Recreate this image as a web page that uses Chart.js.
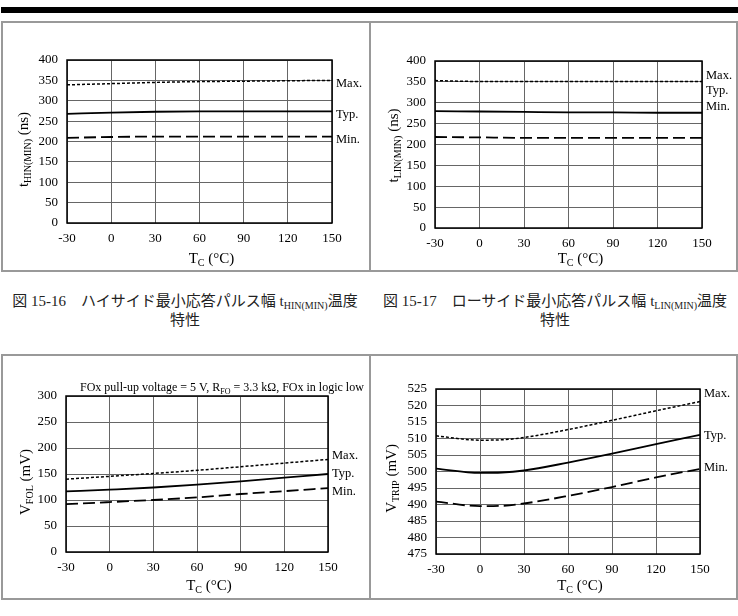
<!DOCTYPE html>
<html>
<head>
<meta charset="utf-8">
<script src="https://cdn.jsdelivr.net/npm/chart.js@4.4.0/dist/chart.umd.min.js"></script>
<style>
  body { margin: 0; background: #fff; width: 738px; height: 616px; position: relative; overflow: hidden;
         font-family: "Liberation Serif", "Noto Sans CJK JP", serif; }
  .bar { position: absolute; left: 1px; top: 7px; width: 737px; height: 6px; background: #000; }
  .cell { position: absolute; box-sizing: border-box; border: 2px solid #999; }
  canvas { position: absolute; }
  .cap { position: absolute; width: 370px; text-align: center; font-size: 15px; line-height: 19px; color: #222; }
  .cap .lat { font-family: "Liberation Serif", serif; }
  .cap sub { font-size: 10px; vertical-align: -3px; line-height: 0; }
</style>
</head>
<body>
<div class="bar"></div>
<div class="cell" style="left:1px;top:21px;width:370px;height:251px"></div>
<div class="cell" style="left:369px;top:21px;width:369px;height:251px"></div>
<div class="cell" style="left:1px;top:354px;width:370px;height:246px"></div>
<div class="cell" style="left:369px;top:354px;width:369px;height:246px"></div>

<canvas id="c1" width="366" height="247" style="left:3px;top:23px"></canvas>
<canvas id="c2" width="365" height="247" style="left:371px;top:23px"></canvas>
<canvas id="c3" width="366" height="242" style="left:3px;top:356px"></canvas>
<canvas id="c4" width="365" height="242" style="left:371px;top:356px"></canvas>

<div class="cap" style="left:0;top:292px">図 <span class="lat">15-16</span>　ハイサイド最小応答パルス幅 <span class="lat">t<sub>HIN(MIN)</sub></span>温度<br>特性</div>
<div class="cap" style="left:370px;top:292px">図 <span class="lat">15-17</span>　ローサイド最小応答パルス幅 <span class="lat">t<sub>LIN(MIN)</sub></span>温度<br>特性</div>

<script>
// 温度 (°C)
const tempC = [-30, 0, 30, 60, 90, 120, 150];
const tempTrip = [-30, 0, 15, 30, 60, 90, 120, 150];

// t_HIN(MIN) (ns)
const hinMax = [339, 342, 345, 347, 348, 349, 350];
const hinTyp = [268, 271, 273, 274, 274, 274, 274];
const hinMin = [209, 211, 212, 212, 212, 212, 212];

// t_LIN(MIN) (ns)
const linMax = [353, 351, 351, 351, 351, 351, 351];
const linTyp = [280, 279, 278, 277, 277, 276, 276];
const linMin = [218, 217, 216, 216, 216, 216, 216];

// V_FOL (mV)
const folMax = [140, 145.5, 151, 157, 164, 171, 178];
const folTyp = [116.5, 120, 124, 129.5, 136, 143, 150];
const folMin = [92, 96, 100, 105, 111.5, 117, 123];

// V_TRIP (mV)
const tripMax = [510.8, 509.5, 509.6, 510.3, 512.7, 515.5, 518.4, 521.2];
const tripTyp = [500.9, 499.6, 499.7, 500.3, 502.7, 505.4, 508.3, 511.1];
const tripMin = [490.9, 489.5, 489.6, 490.3, 492.6, 495.3, 498.2, 500.8];

const serif = '"Liberation Serif", "Times New Roman", serif';

// 添字つきテキストを描く
function rich(ctx, parts, x, y, align, size) {
  size = size || 15;
  const main = size + 'px ' + serif, sub = Math.round(size * 0.68) + 'px ' + serif;
  let w = 0;
  parts.forEach(p => { ctx.font = p[1] ? sub : main; w += ctx.measureText(p[0]).width; });
  let cx = align === 'left' ? x : x - w / 2;
  ctx.textAlign = 'left';
  ctx.textBaseline = 'alphabetic';
  parts.forEach(p => {
    ctx.font = p[1] ? sub : main;
    ctx.fillText(p[0], cx, y + size / 3 + (p[1] ? 3 : 0));
    cx += ctx.measureText(p[0]).width;
  });
}

const decoPlugin = {
  id: 'deco',
  afterDraw(chart, args, o) {
    const { ctx, chartArea: a, scales } = chart;
    ctx.save();
    ctx.strokeStyle = '#000';
    ctx.lineWidth = 1.5;
    ctx.strokeRect(a.left, a.top, a.right - a.left, a.bottom - a.top);
    ctx.fillStyle = '#000';
    ctx.font = '12.5px ' + serif;
    ctx.textAlign = 'left';
    ctx.textBaseline = 'middle';
    o.side.forEach(s => ctx.fillText(s[0], a.right + 4, scales.y.getPixelForValue(s[1])));
    if (o.note) rich(ctx, o.note, a.left + 14, a.top - 9, 'left', 12);
    rich(ctx, o.xTitle, (a.left + a.right) / 2 + 12, a.bottom + o.xGap);
    ctx.translate(a.left - o.yGap, (a.top + a.bottom) / 2 + o.yShift);
    ctx.rotate(-Math.PI / 2);
    rich(ctx, o.yTitle, 0, 0);
    ctx.restore();
  }
};

function series(xs, ys, kind) {
  const st = {
    max: { borderDash: [3, 2], borderWidth: 1.5 },
    typ: { borderDash: [], borderWidth: 1.8 },
    min: { borderDash: [12, 5], borderWidth: 1.8 }
  }[kind];
  return Object.assign({
    data: xs.map((x, i) => ({ x: x, y: ys[i] })),
    borderColor: '#000',
    pointRadius: 0,
    fill: false,
    cubicInterpolationMode: 'monotone'
  }, st);
}

// box: キャンバスのページ位置, plot: プロット領域のページ位置
function makeChart(id, box, plot, datasets, yMin, yMax, yStep, decoOpts) {
  const axisW = plot.left - box.left;
  const axisH = box.top + box.h - plot.bottom;
  return new Chart(document.getElementById(id), {
    type: 'line',
    data: { datasets: datasets },
    options: {
      responsive: false,
      animation: false,
      layout: { padding: { left: 0, bottom: 0, top: plot.top - box.top, right: box.left + box.w - plot.right } },
      plugins: { legend: { display: false }, tooltip: { enabled: false }, deco: decoOpts },
      scales: {
        x: {
          type: 'linear', min: -30, max: 150,
          ticks: { stepSize: 30, autoSkip: false, maxRotation: 0, color: '#000', padding: 8, font: { family: serif, size: 13 } },
          grid: { color: '#666', lineWidth: 1, drawTicks: false },
          border: { display: false },
          afterFit(s) { s.height = axisH; }
        },
        y: {
          min: yMin, max: yMax,
          ticks: { stepSize: yStep, autoSkip: false, color: '#000', padding: 9, font: { family: serif, size: 13 } },
          grid: { color: '#666', lineWidth: 1, drawTicks: false },
          border: { display: false },
          afterFit(s) { s.width = axisW; }
        }
      }
    },
    plugins: [decoPlugin]
  });
}

const xTitle = [['T'], ['C', true], [' (°C)']];

makeChart('c1', { left: 3, top: 23, w: 366, h: 247 }, { left: 67, right: 332, top: 60, bottom: 223 },
  [series(tempC, hinMax, 'max'), series(tempC, hinTyp, 'typ'), series(tempC, hinMin, 'min')], 0, 400, 50,
  { side: [['Max.', 343], ['Typ.', 265], ['Min.', 204]], xTitle: xTitle, xGap: 35,
    yTitle: [['t'], ['HIN(MIN)', true], [' (ns)']], yGap: 44, yShift: 8 });

makeChart('c2', { left: 371, top: 23, w: 365, h: 247 }, { left: 435, right: 702, top: 61, bottom: 228 },
  [series(tempC, linMax, 'max'), series(tempC, linTyp, 'typ'), series(tempC, linMin, 'min')], 0, 400, 50,
  { side: [['Max.', 364], ['Typ.', 328], ['Min.', 290]], xTitle: xTitle, xGap: 30,
    yTitle: [['t'], ['LIN(MIN)', true], [' (ns)']], yGap: 42, yShift: 1 });

makeChart('c3', { left: 3, top: 356, w: 366, h: 242 }, { left: 66, right: 328, top: 396, bottom: 552 },
  [series(tempC, folMax, 'max'), series(tempC, folTyp, 'typ'), series(tempC, folMin, 'min')], 0, 300, 50,
  { side: [['Max.', 185], ['Typ.', 150], ['Min.', 115]], xTitle: xTitle, xGap: 33,
    yTitle: [['V'], ['FOL', true], [' (mV)']], yGap: 41, yShift: 8,
    note: [['FOx pull-up voltage = 5 V, R'], ['FO', true], [' = 3.3 kΩ, FOx in logic low']] });

makeChart('c4', { left: 371, top: 356, w: 365, h: 242 }, { left: 436, right: 700, top: 389, bottom: 554 },
  [series(tempTrip, tripMax, 'max'), series(tempTrip, tripTyp, 'typ'), series(tempTrip, tripMin, 'min')], 475, 525, 5,
  { side: [['Max.', 523.5], ['Typ.', 510.8], ['Min.', 501]], xTitle: xTitle, xGap: 31,
    yTitle: [['V'], ['TRIP', true], [' (mV)']], yGap: 45, yShift: 7 });
</script>
</body>
</html>
